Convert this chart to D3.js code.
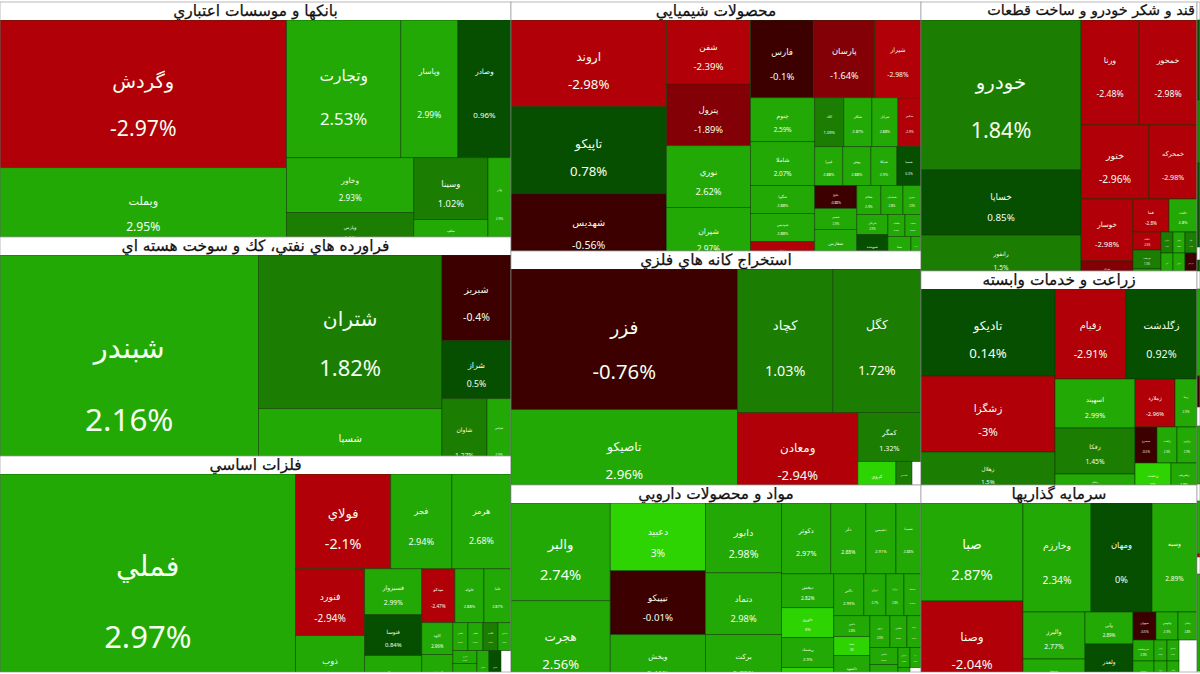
<!DOCTYPE html>
<html>
<head>
<meta charset="utf-8">
<script src="https://cdn.jsdelivr.net/npm/d3@7"></script>
<style>
  html, body { margin: 0; padding: 0; background: #fff; overflow: hidden; }
  svg { display: block; }
  .title { font-family: "DejaVu Sans", sans-serif; font-weight: 400; fill: #111; stroke: #111; stroke-width: 0.25; }
  .cell-text { font-family: "Noto Sans", "DejaVu Sans", sans-serif; fill: #f4fff0; }
</style>
</head>
<body>
<svg id="map" width="1200" height="674"></svg>
<script>
// Weights (visible area of each cell), nested as
// alternating splits: columns, then rows, then columns...

// bourse groups
const bankTitle = "بانكها و موسسات اعتباري";
const bankNames = ["وگردش", "وبملت", "وتجارت", "وپاسار", "وصادر", "وخاور", "وپارس", "وسينا", "سلف", "وآذر"];
const bankChanges = [-2.97, 2.95, 2.53, 2.99, 0.96, 2.93, 1.1, 1.02, 2.5, 2.9];
const bankWeights = [[42328, 22880], [[15732, 7866, 7314], [[6985, 4445], [4588, 2072], 2070]]];

const oilTitle = "فراورده هاي نفتي، كك و سوخت هسته اي";
const oilNames = ["شبندر", "شتران", "شسپا", "شبريز", "شراز", "شاوان", "شپاس"];
const oilChanges = [2.16, 1.82, 2.94, -0.4, 0.5, 1.27, 2.9];
const oilWeights = [58308, [28182, 13176], [5934, 4002, [3690, 1968]]];

const metalTitle = "فلزات اساسي";
const metalNames = ["فملي", "فولاي", "فجر", "هرمز", "فنورد", "ذوب", "فسبزوار", "فنوسا", "سيسكو",
  "ميدكو", "فلوله", "فاما", "كاوه", "فروس", "فخاس", "فباهنر", "فگستر", "فاسمين", "فزرين", "فرآور", "فسوژ", "فجهان", ""];
const metalChanges = [2.97, -2.1, 2.94, 2.68, -2.94, 2.54, 2.99, 0.84, 2.8,
  -2.47, 2.88, 2.87, 2.96, 2.9, 2.9, 2.9, 1.5, 2.9, 2.9, 2.8, 2.9, 0.7, null];
const metalWeights = [65785, [[9025, 5795, 5605], [[4623, 4209], [2622, 2337, 2337],
  [[1782, 1566, 1458], [[992, 1302], [[420, 420, 420, 364], [[312, 792], 552, 552, 460]]]]]]];

const chemTitle = "محصولات شيميايي";
const chemNames = ["اروند", "تاپيكو", "شهديس", "شفن", "پترول", "نوري", "شيران", "فارس", "پارسان", "شيراز",
  "چنوم", "شاملا", "شگويا", "شپديس", "شاراك", "الك", "شكلر", "شرانل", "شكبير", "قپيرا", "پوش", "شيكلا", "شسپا",
  "خليج", "شبصير", "شفارس", "شكام", "شصدف", "شپترو", "شرنگي", "شوينده", "شلعاب", "شنفت", "شفا", "كرماشا"];
const chemChanges = [-2.98, 0.78, -0.56, -2.39, -1.89, 2.62, 2.97, -0.1, -1.64, -2.98,
  2.59, 2.07, 2.88, 2.88, -2.5, 1.09, 2.87, 2.88, -2.9, 2.88, 2.88, 2.9, 0.3,
  -0.88, 2.9, 2.7, 2.9, 2.8, 2.9, 2.9, 0.6, 2.9, 2.8, 2.7, 2.9];
const chemWeights = [[13485, 13485, 10850], [5376, 5208, 5208, 4704],
  [[4914, 4758, 3588], [[2816, 2816, 1792, 1792, 1408],
    [[1421, 1372, 1274, 1127], [1092, 1092, 1014, 936],
      [[966, 882, 1428], [[696, 638, 522], [[620, 899], [[374, 352], [621, 270]]]]]]]]];

const mineTitle = "استخراج كانه هاي فلزي";
const mineNames = ["فزر", "تاصيكو", "كچاد", "كگل", "ومعادن", "كمگر", "كروي", "فاسمين", ""];
const mineChanges = [-0.76, 2.96, 1.03, 1.72, -2.94, 1.32, 3, 1.2, null];
const mineWeights = [[31866, 19888], [[13680, 12672], [10200, [3087, [1368, 576, 324]]]]];

const pharmaTitle = "مواد و محصولات دارويي";
const pharmaNames = ["والبر", "هجرت", "دعبيد", "تيپيكو", "ويخش", "دابور", "دتماد", "بركت",
  "دكوثر", "دلر", "دشيمي", "شسينا", "دپخش", "خاوري", "ريشمك", "دفرا", "دالبر", "ديران", "درازك", "دسبحا",
  "دامين", "دلقما", "داسوه", "دروز", "دقاضي", "دتوليد", "دكيمي", "دجابر", "دزهراوي", "دارو", "دسانكو", ""];
const pharmaChanges = [2.74, 2.56, 3, -0.01, 2.41, 2.98, 2.98, 2.78,
  2.97, 2.88, 2.91, 2.88, 2.82, 3, 2.9, 3, 2.99, 2.7, 2.8, 2.9,
  2.8, 3, 2.9, 2.9, 2.8, 2.7, 2.9, 2.8, 2.9, 2.9, 2.9, null];
const pharmaWeights = [[9702, 8514], [6460, 6080, 4940], [5320, 4712, 3952],
  [[3479, 2485, 2130, 1775], [[1768, 1560, 1560, 988],
    [[1260, 924, 756, 714], [[756, 684, 1116], [[640, 544, 448], [[476, 616], [[240, 220], [228, 209]]]]]]]]];

const autoTitle = "قند و شكر خودرو و ساخت قطعات";
const autoNames = ["خودرو", "خساپا", "رانفور", "ورنا", "خمحور", "ختور", "خمحركه", "خوسار", "ختراك", "قما", "خلنت",
  "خكمك", "خريخت", "خزر", "خپارس", "خبهمن", "خكار", "خاور", "خدیزل", "خچرخش"];
const autoChanges = [1.84, 0.85, 1.5, -2.48, -2.98, -2.96, -2.98, -2.98, -1.5, -2.8, 2.8,
  -2.6, 1.5, 2.9, 1.5, 2.8, 1.4, 2.7, 2.9, -0.9];
const autoWeights = [[24000, 10400, 7200], [[6090, 6090], [5032, 3552],
  [[3224, 988], [[1188, 924], [[504, 532, 308], [[252, 252, 252], [324, 324, 324]]]]]]];

const agriTitle = "زراعت و خدمات وابسته";
const agriNames = ["تاديكو", "زشگزا", "زهلال", "زقيام", "زگلدشت", "اسهپند", "زفكا", "زماهان",
  "زملارد", "زبينا", "سيمرغ", "زكشت", "زپارس", "زدشت", "زشريف"];
const agriChanges = [0.14, -3, 1.5, -2.91, 0.92, 2.99, 1.45, 2.9, -2.96, 2.9, -0.5, 2.9, 2.9, 3, 2.8];
const agriWeights = [[11658, 10184, 5494], [[6390, 6390], [[3920, 3680, 1520], [[1920, 1056], [792, 720, 720], [1080, 780]]]]];

const investTitle = "سرمايه گذاريها";
const investNames = ["صبا", "وصنا", "وخارزم", "ومهان", "وسبه", "والبرز", "وبيمه", "وآتي", "ولغدر",
  "سهوان", "وكبهمن", "ونيكي", "سرچشمه", "وسپه", "ولراز", "وصندوق", "وپويا", "وگستر", ""];
const investChanges = [2.87, -2.04, 2.34, 0, 2.89, 2.77, 2.6, 2.89, 0.89,
  -0.5, 2.9, 2.8, 2.9, 2.8, 2.9, 2.7, 2.8, 2.9, null];
const investWeights = [[9996, 8772], [[7412, 6649, 4905], [[2914, 1736], [1536, 2064],
  [[644, 616, 532], [[441, 546], [[273, 252], [338, 312]], 846]]]]];

// the sliver of the next column that shows at the right edge
const edgeChanges = [null, 0.5, 1.5, 0.5, null, 0.5, null, 2.5, -0.5, null, 2.5, null, 2.5, -2.5, null, 2.5];
const edgeWeights = [[54, 240, 189, 252, 39, 33, 54, 261, 93, 57, 174, 51, 159, 9, 51, 291]];

const panelWeights = [[120085, 111909, 110376], [102090, 95940, 76670], [74244, 59064, 51612], [2010]];

const panels = [
  { title: bankTitle, names: bankNames, changes: bankChanges, weights: bankWeights },
  { title: oilTitle, names: oilNames, changes: oilChanges, weights: oilWeights },
  { title: metalTitle, names: metalNames, changes: metalChanges, weights: metalWeights },
  { title: chemTitle, names: chemNames, changes: chemChanges, weights: chemWeights },
  { title: mineTitle, names: mineNames, changes: mineChanges, weights: mineWeights },
  { title: pharmaTitle, names: pharmaNames, changes: pharmaChanges, weights: pharmaWeights },
  { title: autoTitle, names: autoNames, changes: autoChanges, weights: autoWeights },
  { title: agriTitle, names: agriNames, changes: agriChanges, weights: agriWeights },
  { title: investTitle, names: investNames, changes: investChanges, weights: investWeights },
  { title: "", names: [], changes: edgeChanges, weights: edgeWeights }
];

const titleHeight = 18;
const mapTop = 2;

const color = d3.scaleThreshold()
  .domain([-2, -1, 0, 1, 2, 3])
  .range(["#b10008", "#820006", "#3c0000", "#064f00", "#1b7d02", "#22a905", "#2dd402"]);

// label size follows the short side of the cell
const labelSize = d3.scaleLinear()
  .domain([0, 30, 85, 150, 230])
  .range([0, 4.2, 13, 21.5, 32]);

// columns at even depths, rows at odd depths
function alternate(node, x0, y0, x1, y1) {
  (node.depth % 2 ? d3.treemapSlice : d3.treemapDice)(node, x0, y0, x1, y1);
}

function build(weights) {
  return d3.hierarchy(weights, d => Array.isArray(d) ? d : null)
    .sum(d => Array.isArray(d) ? 0 : d);
}

const svg = d3.select("#map");

const panelRoot = d3.treemap().tile(alternate).size([1200, 670])(build(panelWeights));

panelRoot.leaves().forEach((leaf, i) => {
  const p = panels[i];
  const w = leaf.x1 - leaf.x0;
  const h = leaf.y1 - leaf.y0;
  const band = p.title ? titleHeight : 0;

  const g = svg.append("g").attr("transform", `translate(${leaf.x0},${leaf.y0 + mapTop})`);

  g.append("rect").attr("width", w).attr("height", h).attr("fill", "#fff");

  if (p.title) {
    // the long car-parts title sits hard against the right edge of its band
    const tight = p.title === autoTitle;
    g.append("text")
      .attr("class", "title")
      .attr("x", tight ? w - 2 : w / 2)
      .attr("y", band / 2)
      .attr("text-anchor", tight ? "end" : "middle")
      .attr("dominant-baseline", "middle")
      .attr("font-size", tight ? 14.4 : 15.4)
      .text(p.title);
  }

  // one weight unit is one square pixel, so the bottom row may run past the panel
  const tree = build(p.weights);
  d3.treemap().tile(alternate).size([w, tree.value / w])(tree);

  g.append("clipPath").attr("id", "clip" + i)
    .append("rect").attr("y", band).attr("width", w).attr("height", h - band);

  const body = g.append("g")
    .attr("clip-path", `url(#clip${i})`)
    .append("g").attr("transform", `translate(0,${band})`);

  const cells = tree.leaves()
    .map((d, j) => ({ x0: d.x0, y0: d.y0, x1: d.x1, y1: d.y1, name: p.names[j] || "", change: p.changes[j] }))
    .filter(d => d.change !== null);

  body.selectAll("rect").data(cells).join("rect")
    .attr("x", d => d.x0)
    .attr("y", d => d.y0)
    .attr("width", d => d.x1 - d.x0)
    .attr("height", d => d.y1 - d.y0)
    .attr("fill", d => color(d.change))
    .attr("stroke", "#0b3a02")
    .attr("stroke-opacity", 0.75)
    .attr("stroke-width", 0.7);

  const size = d => labelSize(Math.min(d.x1 - d.x0, d.y1 - d.y0));
  const nameY = d => d.y0 + (d.y1 - d.y0) * 0.34 + size(d) * 0.6;
  const pctY = d => nameY(d) + (d.y1 - d.y0) * 0.32;
  const labelled = cells.filter(d => d.name && d.x1 - d.x0 > 9 && d.y1 - d.y0 > 9);
  // anything wholly below the panel's cut-off edge would never be seen
  const inView = y => d => y(d) - size(d) / 2 < h - band;

  body.selectAll("text.name").data(labelled.filter(inView(nameY))).join("text")
    .attr("class", "name cell-text")
    .attr("x", d => (d.x0 + d.x1) / 2)
    .attr("y", nameY)
    .attr("text-anchor", "middle")
    .attr("dominant-baseline", "middle")
    .attr("font-size", d => size(d) * 0.92)
    .text(d => d.name);

  body.selectAll("text.pct").data(labelled.filter(inView(pctY))).join("text")
    .attr("class", "pct cell-text")
    .attr("x", d => (d.x0 + d.x1) / 2)
    .attr("y", pctY)
    .attr("text-anchor", "middle")
    .attr("dominant-baseline", "middle")
    .attr("font-size", size)
    .text(d => d.change + "%");

  g.append("rect").attr("width", w).attr("height", h)
    .attr("fill", "none").attr("stroke", "#8a8a8a").attr("stroke-width", 0.6);
});
</script>
</body>
</html>
